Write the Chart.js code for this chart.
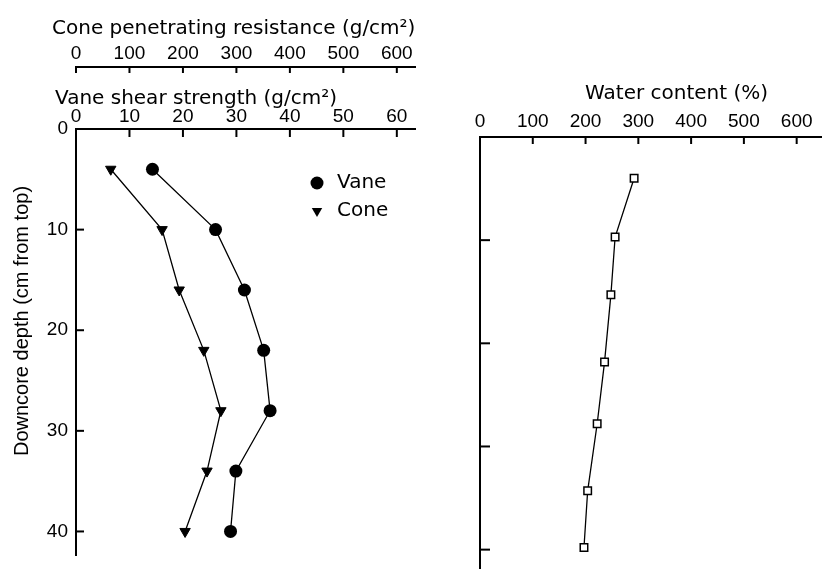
<!DOCTYPE html>
<html lang="en">
<head>
  <meta charset="UTF-8">
  <title>Core strength and water content</title>
  <style>
    body {
      margin: 0;
      width: 822px;
      height: 575px;
      overflow: hidden;
      position: relative;
      background: #fff;
    }
    canvas {
      position: absolute;
      top: 0;
    }
    #strength-chart { left: 0; }
    #water-chart { left: 440px; }
  </style>
</head>
<body>
  <canvas id="strength-chart" width="430" height="575"></canvas>
  <canvas id="water-chart" width="440" height="575"></canvas>

  <script src="https://cdn.jsdelivr.net/npm/chart.js@4"></script>
  <script>
    // Data
    const depths = [4, 10, 16, 22, 28, 34, 40];                       // cm from top
    const vaneStrength = [14.3, 26.1, 31.5, 35.1, 36.3, 29.9, 28.9];  // g/cm2
    const coneResistance = [65, 161, 193, 239, 271, 245, 204];        // g/cm2
    const waterDepths = [4, 9.7, 15.3, 21.8, 27.8, 34.3, 39.8];       // cm from top
    const waterContent = [292, 256, 248, 236, 222, 204, 197];         // %

    const digitFont = { family: "'Liberation Sans', Arial, sans-serif", size: 19 };
    const titleFont = "20px 'DejaVu Sans', sans-serif";

    Chart.defaults.color = "#000";
    Chart.defaults.animation = false;

    function toPoints(xs, ys) {
      return xs.map((x, i) => ({ x: x, y: ys[i] }));
    }

    // Tick marks pointing into the plot
    const inwardTicks = {
      id: "inwardTicks",
      afterDraw(chart, args, opts) {
        const ctx = chart.ctx;
        ctx.save();
        ctx.strokeStyle = "#000";
        ctx.lineWidth = 2;
        for (const [id, len] of Object.entries(opts.lengths || {})) {
          const scale = chart.scales[id];
          scale.ticks.forEach((t) => {
            const p = scale.getPixelForValue(t.value);
            ctx.beginPath();
            if (scale.isHorizontal()) {
              ctx.moveTo(p, scale.bottom);
              ctx.lineTo(p, scale.bottom + len);
            } else {
              ctx.moveTo(scale.right, p);
              ctx.lineTo(scale.right + len, p);
            }
            ctx.stroke();
          });
        }
        ctx.restore();
      },
    };

    // Axis titles that sit off-centre in the original
    const freeTitles = {
      id: "freeTitles",
      afterDraw(chart, args, opts) {
        const ctx = chart.ctx;
        (opts.items || []).forEach((it) => {
          ctx.save();
          ctx.font = it.font;
          ctx.fillStyle = "#000";
          ctx.textAlign = it.align || "left";
          ctx.textBaseline = "alphabetic";
          ctx.translate(it.x, it.y);
          ctx.rotate(it.rotate || 0);
          ctx.fillText(it.text, 0, 0);
          ctx.restore();
        });
      },
    };

    // Legend inside the plot
    const innerLegend = {
      id: "innerLegend",
      afterDraw(chart, args, opts) {
        const ctx = chart.ctx;
        ctx.save();
        ctx.font = titleFont;
        ctx.textBaseline = "middle";
        ctx.fillStyle = "#000";
        chart.data.datasets.forEach((ds, i) => {
          const x = opts.x;
          const y = opts.y + i * opts.gap;
          ctx.beginPath();
          if (ds.pointStyle === "triangle") {
            const r = 6;
            ctx.moveTo(x - r * 0.87, y - r / 2);
            ctx.lineTo(x + r * 0.87, y - r / 2);
            ctx.lineTo(x, y + r);
            ctx.closePath();
          } else {
            ctx.arc(x, y, 6.5, 0, Math.PI * 2);
          }
          ctx.fill();
          ctx.fillText(ds.label, x + 20, y);
        });
        ctx.restore();
      },
    };

    new Chart(document.getElementById("strength-chart"), {
      type: "scatter",
      data: {
        datasets: [
          {
            label: "Vane",
            data: toPoints(vaneStrength, depths),
            xAxisID: "x",
            showLine: true,
            borderColor: "#000",
            borderWidth: 1.3,
            backgroundColor: "#000",
            pointStyle: "circle",
            pointRadius: 6.5,
            pointBorderWidth: 0,
          },
          {
            label: "Cone",
            data: toPoints(coneResistance, depths),
            xAxisID: "x2",
            showLine: true,
            borderColor: "#000",
            borderWidth: 1.3,
            backgroundColor: "#000",
            pointStyle: "triangle",
            pointRotation: 180,
            pointRadius: 6,
            pointBorderWidth: 1,
          },
        ],
      },
      options: {
        responsive: false,
        layout: { padding: { top: 0, left: 0, right: 15, bottom: 3 } },
        plugins: {
          legend: { display: false },
          tooltip: { enabled: false },
          inwardTicks: { lengths: { x: 8, x2: 6, y: 8 } },
          innerLegend: { x: 317, y: 183, gap: 28 },
          freeTitles: {
            items: [
              { text: "Cone penetrating resistance (g/cm\u00b2)", x: 52, y: 33.5, font: titleFont },
              { text: "Vane shear strength (g/cm\u00b2)", x: 55, y: 103.5, font: titleFont },
              {
                text: "Downcore depth (cm from top)", x: 28, y: 321, rotate: -Math.PI / 2,
                align: "center", font: "20px 'Liberation Sans', Arial, sans-serif",
              },
            ],
          },
        },
        scales: {
          x: {
            type: "linear",
            position: "top",
            weight: 1,
            min: 0,
            max: 63.4,
            ticks: { stepSize: 10, includeBounds: false, autoSkip: false, maxRotation: 0, padding: 1, font: digitFont },
            grid: { drawOnChartArea: false, drawTicks: false },
            border: { color: "#000", width: 2 },
            afterFit(s) { s.height = 62; },
          },
          x2: {
            type: "linear",
            position: "top",
            weight: 2,
            min: 0,
            max: 634,
            ticks: { stepSize: 100, includeBounds: false, autoSkip: false, maxRotation: 0, padding: 2, font: digitFont },
            grid: { drawOnChartArea: false, drawTicks: false },
            border: { color: "#000", width: 2 },
            afterFit(s) { s.height = 67; },
          },
          y: {
            type: "linear",
            reverse: true,
            min: 0,
            max: 42.4,
            ticks: { stepSize: 10, includeBounds: false, padding: 8, font: digitFont },
            grid: { drawOnChartArea: false, drawTicks: false },
            border: { color: "#000", width: 2 },
            afterFit(s) { s.width = 76; },
          },
        },
      },
      plugins: [inwardTicks, freeTitles, innerLegend],
    });

    new Chart(document.getElementById("water-chart"), {
      type: "scatter",
      data: {
        datasets: [
          {
            label: "Water content",
            data: toPoints(waterContent, waterDepths),
            showLine: true,
            borderColor: "#000",
            borderWidth: 1.3,
            backgroundColor: "#fff",
            pointStyle: "rect",
            pointRadius: 5.3,
            pointBorderColor: "#000",
            pointBorderWidth: 1.5,
          },
        ],
      },
      options: {
        responsive: false,
        layout: { padding: 0 },
        plugins: {
          legend: { display: false },
          tooltip: { enabled: false },
          inwardTicks: { lengths: { x: 7, y: 10 } },
        },
        scales: {
          x: {
            type: "linear",
            position: "top",
            min: 0,
            max: 745,
            title: {
              display: true,
              text: "Water content (%)",
              font: { family: "'DejaVu Sans', sans-serif", size: 20 },
              padding: { top: 81.5, bottom: 0 },
            },
            ticks: { stepSize: 100, includeBounds: false, autoSkip: false, maxRotation: 0, padding: 4, font: digitFont },
            grid: { drawOnChartArea: false, drawTicks: false },
            border: { color: "#000", width: 2 },
            afterFit(s) { s.height = 137; },
          },
          y: {
            type: "linear",
            reverse: true,
            min: 0,
            max: 41.8,
            ticks: { stepSize: 10, includeBounds: false, display: false },
            grid: { drawOnChartArea: false, drawTicks: false },
            border: { color: "#000", width: 2 },
            afterFit(s) { s.width = 40; },
          },
        },
      },
      plugins: [inwardTicks],
    });
  </script>
</body>
</html>
